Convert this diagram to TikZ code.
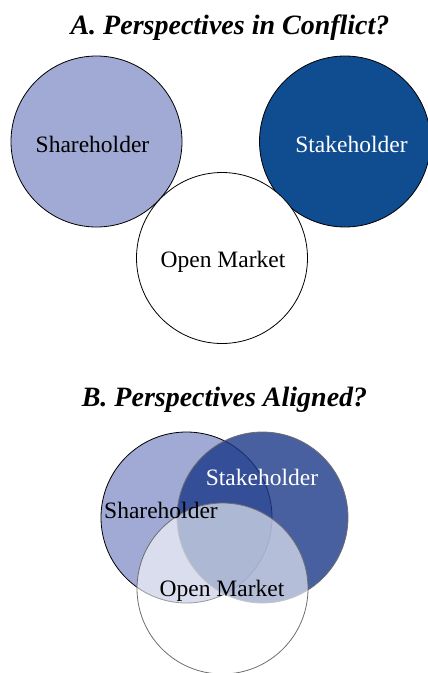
\documentclass[tikz,border=0pt]{standalone}
\usepackage{fontspec}
\setmainfont{Liberation Serif}
\usetikzlibrary{backgrounds}
\definecolor{sharecolor}{RGB}{160,170,212}
\definecolor{stakecolor}{RGB}{16,76,144}
\definecolor{stakesoft}{RGB}{26,56,136}
\definecolor{rimgray}{RGB}{110,110,110}
\newcommand{\circsize}{171pt}
\newcommand{\rimwidth}{0.8pt}

\begin{document}
\begin{tikzpicture}[x=1pt,y=-1pt,
  disc/.style={circle,draw,line width=\rimwidth,minimum size=\circsize,inner sep=0pt},
  lbl/.style={anchor=base,font=\fontsize{23.5}{27}\selectfont},
  heading/.style={anchor=base,font=\fontsize{28}{32}\selectfont\bfseries\itshape}]
\useasboundingbox (0,0) rectangle (428,673);
%A
\node[heading] (titleA) at (230,34) {A. Perspectives in Conflict?};
\node[disc,fill=sharecolor] (share1) at (96.5,141.5) {};
\node[disc,fill=stakecolor] (stake1) at (345,141.5) {};
\node[disc,fill=white] (market1) at (222,258) {};
\node[lbl] (shareA) at (92.5,152) {Shareholder};
\node[lbl,text=white] (stakeA) at (351.5,152) {Stakeholder};
\node[lbl] (marketA) at (223,267) {Open Market};
%B
\node[heading] (titleB) at (224.5,406) {B. Perspectives Aligned?};
\node[disc,fill=sharecolor] (share2) at (186.5,517.5) {};
\node[disc,draw=rimgray,fill=stakesoft,fill opacity=0.8] (stake2) at (262.5,517.5) {};
\node[disc,draw=rimgray,fill=white,fill opacity=0.6] (market2) at (222.5,588.5) {};
\node[lbl] (shareB) at (161,518) {Shareholder};
\node[lbl,text=white] (stakeB) at (262,485) {Stakeholder};
\node[lbl] (marketB) at (222,596) {Open Market};
\end{tikzpicture}
\end{document}
